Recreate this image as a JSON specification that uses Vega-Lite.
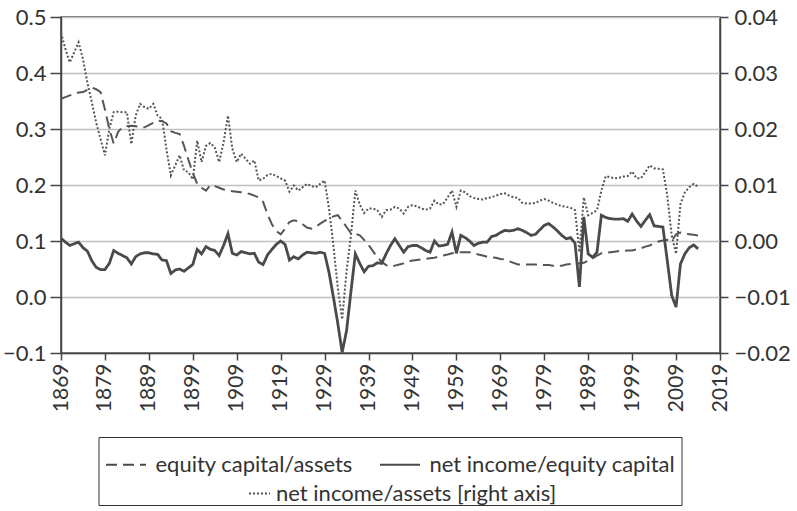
{
"$schema": "https://vega.github.io/schema/vega-lite/v6.json",
"width": 659, "height": 336,
"autosize": {"type": "none"},
"padding": {"left": 61, "top": 17, "right": 77, "bottom": 158},
"config": {
  "font": "Lato",
  "view": {"stroke": "#444", "strokeWidth": 1.5},
  "axis": {"labelFont": "Lato", "labelColor": "#333", "domainColor": "#444", "domainWidth": 1.5, "tickColor": "#444", "tickWidth": 1.5, "labelFontSize": 22},
  "legend": {"labelFont": "Lato", "labelFontSize": 22, "labelColor": "#333"}
},
"datasets": {
"equity": [
{"year":1869,"value":0.354},{"year":1870,"value":0.357},{"year":1871,"value":0.360},{"year":1872,"value":0.363},{"year":1873,"value":0.365},{"year":1874,"value":0.366},{"year":1875,"value":0.370},{"year":1876,"value":0.374},{"year":1877,"value":0.371},{"year":1878,"value":0.366},{"year":1879,"value":0.335},{"year":1880,"value":0.300},{"year":1881,"value":0.274},{"year":1882,"value":0.295},{"year":1883,"value":0.303},{"year":1884,"value":0.305},{"year":1885,"value":0.306},{"year":1886,"value":0.305},{"year":1887,"value":0.304},{"year":1888,"value":0.303},{"year":1889,"value":0.307},{"year":1890,"value":0.311},{"year":1891,"value":0.315},{"year":1892,"value":0.314},{"year":1893,"value":0.310},{"year":1894,"value":0.296},{"year":1895,"value":0.293},{"year":1896,"value":0.291},{"year":1897,"value":0.270},{"year":1898,"value":0.245},{"year":1899,"value":0.222},{"year":1900,"value":0.202},{"year":1901,"value":0.195},{"year":1902,"value":0.190},{"year":1903,"value":0.200},{"year":1904,"value":0.198},{"year":1905,"value":0.195},{"year":1906,"value":0.192},{"year":1907,"value":0.190},{"year":1908,"value":0.189},{"year":1909,"value":0.188},{"year":1910,"value":0.187},{"year":1911,"value":0.186},{"year":1912,"value":0.184},{"year":1913,"value":0.181},{"year":1914,"value":0.178},{"year":1915,"value":0.170},{"year":1916,"value":0.148},{"year":1917,"value":0.130},{"year":1918,"value":0.118},{"year":1919,"value":0.112},{"year":1920,"value":0.122},{"year":1921,"value":0.134},{"year":1922,"value":0.137},{"year":1923,"value":0.135},{"year":1924,"value":0.130},{"year":1925,"value":0.124},{"year":1926,"value":0.122},{"year":1927,"value":0.125},{"year":1928,"value":0.131},{"year":1929,"value":0.136},{"year":1930,"value":0.140},{"year":1931,"value":0.144},{"year":1932,"value":0.146},{"year":1933,"value":0.136},{"year":1934,"value":0.125},{"year":1935,"value":0.114},{"year":1936,"value":0.113},{"year":1937,"value":0.110},{"year":1938,"value":0.102},{"year":1939,"value":0.093},{"year":1940,"value":0.082},{"year":1941,"value":0.071},{"year":1942,"value":0.063},{"year":1943,"value":0.057},{"year":1944,"value":0.054},{"year":1945,"value":0.056},{"year":1946,"value":0.058},{"year":1947,"value":0.060},{"year":1948,"value":0.063},{"year":1949,"value":0.065},{"year":1950,"value":0.066},{"year":1951,"value":0.067},{"year":1952,"value":0.068},{"year":1953,"value":0.069},{"year":1954,"value":0.070},{"year":1955,"value":0.072},{"year":1956,"value":0.074},{"year":1957,"value":0.076},{"year":1958,"value":0.078},{"year":1959,"value":0.079},{"year":1960,"value":0.080},{"year":1961,"value":0.080},{"year":1962,"value":0.080},{"year":1963,"value":0.078},{"year":1964,"value":0.076},{"year":1965,"value":0.074},{"year":1966,"value":0.072},{"year":1967,"value":0.071},{"year":1968,"value":0.070},{"year":1969,"value":0.068},{"year":1970,"value":0.067},{"year":1971,"value":0.064},{"year":1972,"value":0.061},{"year":1973,"value":0.058},{"year":1974,"value":0.058},{"year":1975,"value":0.058},{"year":1976,"value":0.058},{"year":1977,"value":0.058},{"year":1978,"value":0.057},{"year":1979,"value":0.057},{"year":1980,"value":0.057},{"year":1981,"value":0.056},{"year":1982,"value":0.056},{"year":1983,"value":0.056},{"year":1984,"value":0.058},{"year":1985,"value":0.059},{"year":1986,"value":0.060},{"year":1987,"value":0.060},{"year":1988,"value":0.061},{"year":1989,"value":0.065},{"year":1990,"value":0.069},{"year":1991,"value":0.074},{"year":1992,"value":0.078},{"year":1993,"value":0.079},{"year":1994,"value":0.080},{"year":1995,"value":0.081},{"year":1996,"value":0.082},{"year":1997,"value":0.082},{"year":1998,"value":0.083},{"year":1999,"value":0.083},{"year":2000,"value":0.085},{"year":2001,"value":0.087},{"year":2002,"value":0.090},{"year":2003,"value":0.092},{"year":2004,"value":0.096},{"year":2005,"value":0.099},{"year":2006,"value":0.101},{"year":2007,"value":0.102},{"year":2008,"value":0.100},{"year":2009,"value":0.112},{"year":2010,"value":0.115},{"year":2011,"value":0.113},{"year":2012,"value":0.112},{"year":2013,"value":0.111},{"year":2014,"value":0.110}
],
"nie": [
{"year":1869,"value":0.105},{"year":1870,"value":0.098},{"year":1871,"value":0.092},{"year":1872,"value":0.095},{"year":1873,"value":0.098},{"year":1874,"value":0.088},{"year":1875,"value":0.082},{"year":1876,"value":0.065},{"year":1877,"value":0.053},{"year":1878,"value":0.049},{"year":1879,"value":0.049},{"year":1880,"value":0.060},{"year":1881,"value":0.083},{"year":1882,"value":0.078},{"year":1883,"value":0.074},{"year":1884,"value":0.070},{"year":1885,"value":0.059},{"year":1886,"value":0.072},{"year":1887,"value":0.077},{"year":1888,"value":0.079},{"year":1889,"value":0.079},{"year":1890,"value":0.077},{"year":1891,"value":0.076},{"year":1892,"value":0.066},{"year":1893,"value":0.065},{"year":1894,"value":0.042},{"year":1895,"value":0.048},{"year":1896,"value":0.050},{"year":1897,"value":0.046},{"year":1898,"value":0.052},{"year":1899,"value":0.058},{"year":1900,"value":0.085},{"year":1901,"value":0.077},{"year":1902,"value":0.090},{"year":1903,"value":0.085},{"year":1904,"value":0.083},{"year":1905,"value":0.074},{"year":1906,"value":0.092},{"year":1907,"value":0.113},{"year":1908,"value":0.078},{"year":1909,"value":0.075},{"year":1910,"value":0.081},{"year":1911,"value":0.079},{"year":1912,"value":0.077},{"year":1913,"value":0.078},{"year":1914,"value":0.062},{"year":1915,"value":0.058},{"year":1916,"value":0.075},{"year":1917,"value":0.085},{"year":1918,"value":0.094},{"year":1919,"value":0.100},{"year":1920,"value":0.094},{"year":1921,"value":0.066},{"year":1922,"value":0.072},{"year":1923,"value":0.068},{"year":1924,"value":0.075},{"year":1925,"value":0.080},{"year":1926,"value":0.079},{"year":1927,"value":0.078},{"year":1928,"value":0.080},{"year":1929,"value":0.078},{"year":1930,"value":0.044},{"year":1931,"value":0.000},{"year":1932,"value":-0.047},{"year":1933,"value":-0.099},{"year":1934,"value":-0.060},{"year":1935,"value":0.010},{"year":1936,"value":0.077},{"year":1937,"value":0.060},{"year":1938,"value":0.045},{"year":1939,"value":0.055},{"year":1940,"value":0.056},{"year":1941,"value":0.061},{"year":1942,"value":0.060},{"year":1943,"value":0.077},{"year":1944,"value":0.092},{"year":1945,"value":0.104},{"year":1946,"value":0.092},{"year":1947,"value":0.080},{"year":1948,"value":0.090},{"year":1949,"value":0.092},{"year":1950,"value":0.092},{"year":1951,"value":0.088},{"year":1952,"value":0.083},{"year":1953,"value":0.080},{"year":1954,"value":0.100},{"year":1955,"value":0.091},{"year":1956,"value":0.092},{"year":1957,"value":0.094},{"year":1958,"value":0.116},{"year":1959,"value":0.078},{"year":1960,"value":0.110},{"year":1961,"value":0.106},{"year":1962,"value":0.100},{"year":1963,"value":0.092},{"year":1964,"value":0.096},{"year":1965,"value":0.098},{"year":1966,"value":0.098},{"year":1967,"value":0.108},{"year":1968,"value":0.110},{"year":1969,"value":0.115},{"year":1970,"value":0.119},{"year":1971,"value":0.118},{"year":1972,"value":0.119},{"year":1973,"value":0.122},{"year":1974,"value":0.119},{"year":1975,"value":0.115},{"year":1976,"value":0.110},{"year":1977,"value":0.112},{"year":1978,"value":0.120},{"year":1979,"value":0.128},{"year":1980,"value":0.131},{"year":1981,"value":0.125},{"year":1982,"value":0.118},{"year":1983,"value":0.110},{"year":1984,"value":0.104},{"year":1985,"value":0.106},{"year":1986,"value":0.096},{"year":1987,"value":0.018},{"year":1988,"value":0.143},{"year":1989,"value":0.077},{"year":1990,"value":0.071},{"year":1991,"value":0.080},{"year":1992,"value":0.146},{"year":1993,"value":0.142},{"year":1994,"value":0.140},{"year":1995,"value":0.139},{"year":1996,"value":0.139},{"year":1997,"value":0.140},{"year":1998,"value":0.135},{"year":1999,"value":0.148},{"year":2000,"value":0.136},{"year":2001,"value":0.126},{"year":2002,"value":0.137},{"year":2003,"value":0.147},{"year":2004,"value":0.127},{"year":2005,"value":0.126},{"year":2006,"value":0.125},{"year":2007,"value":0.065},{"year":2008,"value":0.003},{"year":2009,"value":-0.018},{"year":2010,"value":0.059},{"year":2011,"value":0.077},{"year":2012,"value":0.088},{"year":2013,"value":0.093},{"year":2014,"value":0.086}
],
"nia": [
{"year":1869,"value":0.0372},{"year":1870,"value":0.0343},{"year":1871,"value":0.0319},{"year":1872,"value":0.0337},{"year":1873,"value":0.0355},{"year":1874,"value":0.0325},{"year":1875,"value":0.0283},{"year":1876,"value":0.0248},{"year":1877,"value":0.0212},{"year":1878,"value":0.0182},{"year":1879,"value":0.0153},{"year":1880,"value":0.0200},{"year":1881,"value":0.0230},{"year":1882,"value":0.0231},{"year":1883,"value":0.0230},{"year":1884,"value":0.0230},{"year":1885,"value":0.0173},{"year":1886,"value":0.0224},{"year":1887,"value":0.0245},{"year":1888,"value":0.0239},{"year":1889,"value":0.0236},{"year":1890,"value":0.0245},{"year":1891,"value":0.0224},{"year":1892,"value":0.0218},{"year":1893,"value":0.0164},{"year":1894,"value":0.0117},{"year":1895,"value":0.0135},{"year":1896,"value":0.0153},{"year":1897,"value":0.0126},{"year":1898,"value":0.0123},{"year":1899,"value":0.0110},{"year":1900,"value":0.0179},{"year":1901,"value":0.0141},{"year":1902,"value":0.0170},{"year":1903,"value":0.0175},{"year":1904,"value":0.0167},{"year":1905,"value":0.0141},{"year":1906,"value":0.0176},{"year":1907,"value":0.0224},{"year":1908,"value":0.0165},{"year":1909,"value":0.0141},{"year":1910,"value":0.0156},{"year":1911,"value":0.0147},{"year":1912,"value":0.0138},{"year":1913,"value":0.0144},{"year":1914,"value":0.0108},{"year":1915,"value":0.0111},{"year":1916,"value":0.0118},{"year":1917,"value":0.0120},{"year":1918,"value":0.0116},{"year":1919,"value":0.0112},{"year":1920,"value":0.0108},{"year":1921,"value":0.0088},{"year":1922,"value":0.0099},{"year":1923,"value":0.0090},{"year":1924,"value":0.0096},{"year":1925,"value":0.0102},{"year":1926,"value":0.0098},{"year":1927,"value":0.0096},{"year":1928,"value":0.0102},{"year":1929,"value":0.0108},{"year":1930,"value":0.0058},{"year":1931,"value":-0.0008},{"year":1932,"value":-0.0083},{"year":1933,"value":-0.0140},{"year":1934,"value":-0.0054},{"year":1935,"value":0.0010},{"year":1936,"value":0.0090},{"year":1937,"value":0.0065},{"year":1938,"value":0.0050},{"year":1939,"value":0.0058},{"year":1940,"value":0.0058},{"year":1941,"value":0.0055},{"year":1942,"value":0.0043},{"year":1943,"value":0.0055},{"year":1944,"value":0.0056},{"year":1945,"value":0.0061},{"year":1946,"value":0.0058},{"year":1947,"value":0.0049},{"year":1948,"value":0.0061},{"year":1949,"value":0.0064},{"year":1950,"value":0.0062},{"year":1951,"value":0.0058},{"year":1952,"value":0.0056},{"year":1953,"value":0.0058},{"year":1954,"value":0.0072},{"year":1955,"value":0.0065},{"year":1956,"value":0.0066},{"year":1957,"value":0.0078},{"year":1958,"value":0.0090},{"year":1959,"value":0.0061},{"year":1960,"value":0.0090},{"year":1961,"value":0.0087},{"year":1962,"value":0.0080},{"year":1963,"value":0.0077},{"year":1964,"value":0.0075},{"year":1965,"value":0.0074},{"year":1966,"value":0.0077},{"year":1967,"value":0.0078},{"year":1968,"value":0.0081},{"year":1969,"value":0.0084},{"year":1970,"value":0.0085},{"year":1971,"value":0.0081},{"year":1972,"value":0.0078},{"year":1973,"value":0.0077},{"year":1974,"value":0.0068},{"year":1975,"value":0.0067},{"year":1976,"value":0.0067},{"year":1977,"value":0.0068},{"year":1978,"value":0.0072},{"year":1979,"value":0.0075},{"year":1980,"value":0.0072},{"year":1981,"value":0.0068},{"year":1982,"value":0.0065},{"year":1983,"value":0.0062},{"year":1984,"value":0.0061},{"year":1985,"value":0.0059},{"year":1986,"value":0.0055},{"year":1987,"value":-0.0020},{"year":1988,"value":0.0078},{"year":1989,"value":0.0046},{"year":1990,"value":0.0050},{"year":1991,"value":0.0055},{"year":1992,"value":0.0090},{"year":1993,"value":0.0116},{"year":1994,"value":0.0114},{"year":1995,"value":0.0112},{"year":1996,"value":0.0113},{"year":1997,"value":0.0115},{"year":1998,"value":0.0116},{"year":1999,"value":0.0124},{"year":2000,"value":0.0112},{"year":2001,"value":0.0112},{"year":2002,"value":0.0123},{"year":2003,"value":0.0135},{"year":2004,"value":0.0130},{"year":2005,"value":0.0129},{"year":2006,"value":0.0128},{"year":2007,"value":0.0081},{"year":2008,"value":0.0010},{"year":2009,"value":-0.0023},{"year":2010,"value":0.0066},{"year":2011,"value":0.0087},{"year":2012,"value":0.0096},{"year":2013,"value":0.0102},{"year":2014,"value":0.0097}
]
},
"encoding": {
  "x": {"field": "year", "type": "quantitative",
        "scale": {"domain": [1869, 2019], "nice": false, "zero": false},
        "axis": {"title": null, "values": [1869,1879,1889,1899,1909,1919,1929,1939,1949,1959,1969,1979,1989,1999,2009,2019], "format": "d", "labelAngle": -90, "grid": false, "tickSize": 7, "labelPadding": 3, "labelFontSize": 21}}
},
"layer": [
  {"layer": [
    {"data": {"name": "equity"},
     "mark": {"type": "line", "color": "#555555", "strokeWidth": 2},
     "encoding": {
       "y": {"field": "value", "type": "quantitative",
             "scale": {"domain": [-0.1, 0.5], "nice": false, "zero": false},
             "axis": {"title": null, "values": [-0.1, 0, 0.1, 0.2, 0.3, 0.4, 0.5], "format": ".1f", "grid": true, "gridColor": "#c0c0c0", "gridWidth": 1.5, "tickSize": 11, "labelPadding": 4}},
       "strokeDash": {"datum": "equity capital/assets", "type": "nominal",
             "scale": {"domain": ["equity capital/assets", "net income/equity capital"], "range": [[11, 6], [1, 0]]},
             "legend": {"title": " ", "titleOrient": "bottom", "titleFontSize": 22, "titlePadding": 2,
                        "orient": "none", "legendX": 37.5, "legendY": 420, "direction": "horizontal",
                        "strokeColor": "#333333", "padding": 6,
                        "symbolType": "stroke", "symbolSize": 1600, "symbolStrokeWidth": 2.2, "symbolStrokeColor": "#4a4a4a",
                        "labelOffset": 8, "columnPadding": 22, "labelLimit": 400}}
     }},
    {"data": {"name": "nie"},
     "mark": {"type": "line", "color": "#4a4a4a", "strokeWidth": 2.8},
     "encoding": {
       "y": {"field": "value", "type": "quantitative"},
       "strokeDash": {"datum": "net income/equity capital", "type": "nominal"}
     }}
  ]},
  {"data": {"name": "nia"},
   "mark": {"type": "line", "strokeWidth": 2, "strokeDash": [2, 2]},
   "encoding": {
     "y": {"field": "value", "type": "quantitative",
           "scale": {"domain": [-0.02, 0.04], "nice": false, "zero": false},
           "axis": {"orient": "right", "title": null, "values": [-0.02, -0.01, 0, 0.01, 0.02, 0.03, 0.04], "format": ".2f", "grid": false, "tickSize": 8, "labelPadding": 6}},
     "color": {"datum": "net income/assets [right axis]", "type": "nominal",
           "scale": {"range": ["#555555"]},
           "legend": {"title": null, "orient": "none", "legendX": 187, "legendY": 465, "padding": 0,
                      "symbolType": "stroke", "symbolSize": 441, "symbolDash": [2, 2], "symbolStrokeWidth": 2, "symbolStrokeColor": "#555555",
                      "labelOffset": 5, "labelLimit": 400}}
   }}
],
"resolve": {"scale": {"y": "independent"}}
}
